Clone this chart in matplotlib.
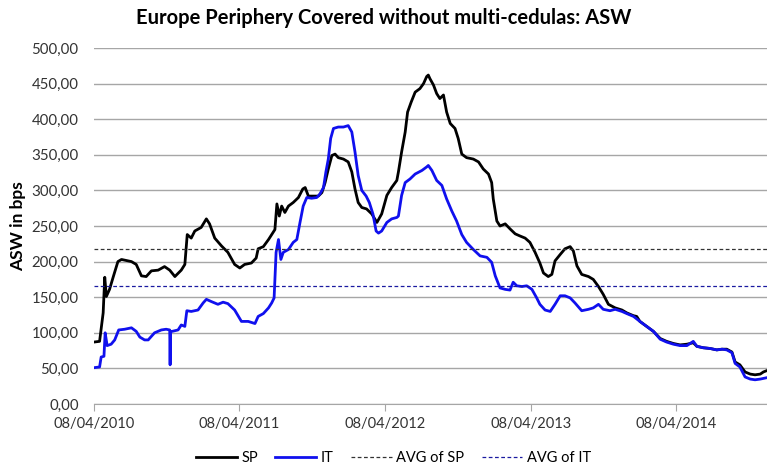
# -*- coding: utf-8 -*-
"""Europe periphery covered bonds ASW: SP vs IT with averages."""

import numpy as np
import pandas as pd
import matplotlib
matplotlib.use("Agg")
import matplotlib.pyplot as plt
import matplotlib.dates as mdates
from matplotlib.ticker import FuncFormatter

plt.rcParams['font.family'] = ['Lato', 'DejaVu Sans']

start = pd.Timestamp("2010-04-08")
end_day = 1689  # right edge of the chart, days after start

# days after 08/04/2010, ASW in bps
sp_days = [0, 14, 23, 27, 31, 39, 48, 60, 69, 94, 106, 119, 131, 144, 161, 177, 190, 203,
           219, 228, 234, 244, 253, 269, 282, 290, 303, 320, 336, 353, 366, 378, 395, 407,
           412, 425, 438, 446, 454, 459, 465, 471, 479, 488, 500, 513, 524, 530, 538, 550,
           563, 572, 580, 588, 597, 605, 613, 626, 638, 647, 655, 663, 672, 684, 697, 710,
           722, 735, 747, 760, 764, 772, 781, 787, 796, 806, 818, 827, 835, 839, 843, 852,
           860, 868, 877, 885, 894, 906, 914, 923, 935, 952, 965, 977, 990, 998, 1002, 1011,
           1019, 1032, 1044, 1057, 1069, 1082, 1094, 1107, 1119, 1128, 1140, 1149, 1157,
           1170, 1182, 1195, 1203, 1212, 1224, 1241, 1253, 1266, 1278, 1291, 1308, 1325,
           1337, 1354, 1362, 1370, 1387, 1404, 1421, 1437, 1454, 1471, 1488, 1504, 1513,
           1529, 1546, 1563, 1576, 1588, 1601, 1609, 1621, 1634, 1647, 1659, 1672, 1680, 1689]
sp_vals = [87, 88, 128, 178, 151, 161, 178, 200, 203, 200, 196, 180, 179, 187, 188, 193, 188, 179,
           188, 196, 238, 233, 243, 248, 260, 253, 233, 222, 213, 196, 191, 196, 198, 205,
           218, 221, 231, 238, 245, 281, 264, 278, 269, 278, 283, 290, 302, 304, 292, 292,
           292, 297, 311, 330, 349, 351, 346, 344, 340, 326, 302, 283, 276, 274, 267, 255,
           267, 293, 304, 314, 326, 354, 382, 410, 424, 438, 443, 450, 460, 462, 457, 448,
           436, 429, 434, 410, 394, 387, 373, 351, 346, 344, 340, 330, 323, 311, 288, 257,
           250, 253, 246, 239, 236, 233, 227, 213, 198, 184, 179, 182, 201,
           210, 218, 221, 215, 194, 182, 179, 175, 165, 154, 140, 135, 132,
           128, 124, 123, 116, 109, 102, 92, 88, 85, 83, 84, 86, 81,
           79, 78, 76, 77, 77, 73, 59, 55, 45, 42, 41, 42, 45, 47]

it_days = [0, 14, 18, 25, 28, 33, 43, 52, 62, 77, 94, 106, 115, 127, 136, 152, 169, 181, 190,
           191, 192, 196, 211, 219, 228, 233, 244, 261, 274, 282, 294, 311, 324, 336, 353,
           370, 387, 404, 412, 425, 438, 446, 452, 457, 463, 469, 475, 488, 500, 509, 517,
           525, 534, 546, 559, 567, 576, 582, 588, 594, 601, 613, 626, 638, 647, 655, 663,
           672, 683, 691, 700, 708, 714, 722, 735, 747, 760, 764, 772, 781, 793, 806, 823,
           835, 839, 848, 860, 873, 885, 898, 910, 923, 935, 952, 969, 986, 998, 1007, 1019,
           1032, 1044, 1052, 1061, 1074, 1086, 1099, 1111, 1119, 1132, 1145, 1157, 1170,
           1182, 1195, 1207, 1224, 1241, 1253, 1266, 1278, 1295, 1308, 1325, 1337, 1354,
           1370, 1387, 1404, 1421, 1437, 1454, 1471, 1488, 1504, 1513, 1529, 1546, 1563,
           1576, 1588, 1601, 1609, 1621, 1634, 1647, 1659, 1672, 1689]
it_vals = [51, 52, 66, 67, 100, 82, 84, 90, 104, 105, 107, 102, 94, 90, 90, 100, 104, 105, 104,
           55, 102, 102, 104, 111, 109, 131, 130, 132, 142, 147, 144, 140, 143, 141, 132,
           116, 116, 113, 123, 127, 135, 142, 149, 213, 231, 203, 213, 217, 227, 231, 255,
           278, 290, 289, 290, 295, 304, 326, 344, 373, 387, 389, 389, 391, 382, 354, 321,
           300, 292, 283, 267, 243, 240, 243, 255, 260, 262, 264, 293, 311, 316, 323, 328,
           333, 335, 328, 314, 307, 288, 271, 257, 238, 227, 217, 208, 206, 199, 180, 163,
           161, 160, 171, 166, 165, 166, 161, 149, 140, 132, 130, 140, 152,
           152, 149, 142, 131, 133, 135, 140, 133, 131, 133, 130, 127, 123,
           116, 109, 102, 91, 87, 84, 82, 82, 88, 81, 79, 78, 76,
           77, 76, 72, 57, 52, 38, 35, 34, 35, 37]

sp_avg = 218
it_avg = 166

tick_years = ["2010-04-08", "2011-04-08", "2012-04-08", "2013-04-08", "2014-04-08"]


def to_dates(days):
    return start + pd.to_timedelta(days, unit="D")


fig = plt.figure(figsize=(7.67, 4.69), dpi=100)
ax = fig.add_axes([94 / 767, 65 / 469, 673 / 767, 356 / 469])

ax.plot(to_dates(sp_days), sp_vals, color="black", lw=2.0, label="SP")
ax.plot(to_dates(it_days), it_vals, color="#1010ee", lw=2.0, label="IT")
ax.axhline(sp_avg, color="#333333", lw=0.9, ls=(0, (3, 2)), label="AVG of SP")
ax.axhline(it_avg, color="#1a1aa0", lw=0.9, ls=(0, (3, 2)), label="AVG of IT")

ax.set_xlim(start, start + pd.Timedelta(days=end_day))
ax.set_ylim(0, 500)
ax.set_yticks(np.arange(0, 501, 50))
ax.yaxis.set_major_formatter(FuncFormatter(lambda v, p: f"{v:.2f}".replace(".", ",")))
ax.set_xticks(pd.to_datetime(tick_years))
ax.xaxis.set_major_formatter(mdates.DateFormatter("%d/%m/%Y"))

ax.grid(axis="y", color="#a6a6a6", lw=1.0)
ax.set_axisbelow(True)
for s in ["top", "right", "left"]:
    ax.spines[s].set_visible(False)
ax.spines["bottom"].set_color("#a6a6a6")
ax.tick_params(axis="y", length=0, labelsize=10.8, labelcolor="#333333", pad=11)
ax.tick_params(axis="x", length=5, color="#a6a6a6", labelsize=10.5, labelcolor="#333333", pad=4)

ax.set_ylabel("ASW in bps", fontsize=12.5, fontweight="bold", labelpad=4)
fig.suptitle("Europe Periphery Covered without multi-cedulas: ASW", fontsize=14.5,
             fontweight="bold", x=0.5, y=0.983)

fig.legend(loc="center", bbox_to_anchor=(0.513, 0.024), ncol=4, frameon=False,
           fontsize=10.5, handlelength=2.8, columnspacing=1.2, handletextpad=0.3)

fig.savefig("out.png", dpi=100)
